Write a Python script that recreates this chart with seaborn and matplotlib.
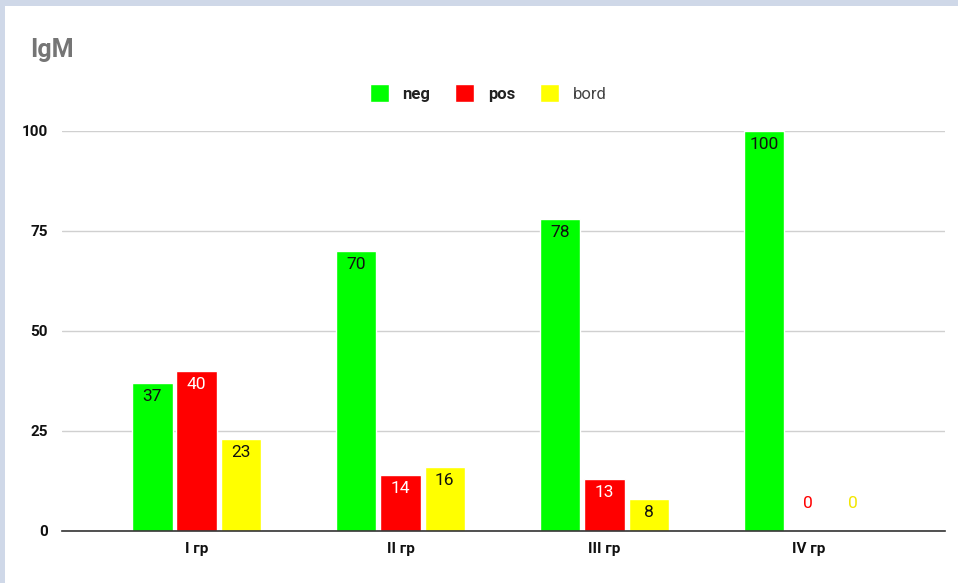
import pandas as pd
import seaborn as sb
import matplotlib.pyplot as plt
from matplotlib.patches import Rectangle

# data
groups = ['I гр', 'II гр', 'III гр', 'IV гр']
neg = [37, 70, 78, 100]
pos = [40, 14, 13, 0]
bord = [23, 16, 8, 0]
series = ['neg', 'pos', 'bord']
colors = {'neg': '#00ff00', 'pos': '#ff0000', 'bord': '#ffff00'}
label_colors = {'neg': '#111111', 'pos': '#ffffff', 'bord': '#111111'}
zero_colors = {'neg': '#00cc00', 'pos': '#ff0000', 'bord': '#f2e600'}

df = pd.DataFrame({'group': groups * 3,
                   'series': ['neg'] * 4 + ['pos'] * 4 + ['bord'] * 4,
                   'value': neg + pos + bord})

sb.set_style('white')
plt.rcParams['font.family'] = ['Roboto', 'DejaVu Sans']

fig = plt.figure(figsize=(9.58, 5.83), dpi=100, facecolor='#cfd8e8')
# white panel with light border on top and left
fig.patches.append(Rectangle((5 / 958, 0), 1, 1 - 6 / 583, transform=fig.transFigure,
                             facecolor='white', edgecolor='none', zorder=-1))
ax = fig.add_axes([62 / 958, 52 / 583, 883 / 958, 400 / 583])
ax.set_facecolor('none')

sb.barplot(data=df, x='group', y='value', hue='series', hue_order=series,
           palette=colors, width=0.65, gap=0.09, saturation=1, ax=ax, legend=False)

# value labels inside top of bars
for cont, s in zip(ax.containers, series):
    for bar in cont:
        h = bar.get_height()
        xc = bar.get_x() + bar.get_width() / 2
        if h > 0:
            ax.annotate(f'{h:.0f}', (xc, h), xytext=(0, -4), textcoords='offset points',
                        ha='center', va='top', fontsize=12.5, color=label_colors[s])
        else:
            ax.annotate(f'{h:.0f}', (xc, 0), xytext=(0, 20), textcoords='offset points',
                        ha='center', va='center', fontsize=12.5, color=zero_colors[s])

ax.set_xlim(-0.66, 3.67)
ax.set_ylim(0, 100)
ax.set_yticks([0, 25, 50, 75, 100])
ax.yaxis.grid(True, color='#d0d0d0', linewidth=1)
ax.set_axisbelow(True)
for sp in ['left', 'right', 'top']:
    ax.spines[sp].set_visible(False)
ax.spines['bottom'].set_color('#333333')
ax.spines['bottom'].set_linewidth(1.2)
ax.tick_params(axis='both', length=0, labelsize=11, colors='#111111')
ax.tick_params(axis='y', pad=10)
ax.tick_params(axis='x', pad=8)
for t in ax.get_xticklabels() + ax.get_yticklabels():
    t.set_fontweight('bold')
ax.set_xlabel('')
ax.set_ylabel('')

fig.text(30 / 958, 1 - 50 / 583, 'IgM', fontsize=18, fontweight='bold', color='#757575',
         ha='left', va='center')

# legend
handles = [Rectangle((0, 0), 1, 1, facecolor=colors[s]) for s in series]
leg = fig.legend(handles, series, loc='center', bbox_to_anchor=(488 / 958, 1 - 93 / 583),
                 ncol=3, frameon=False, fontsize=12, handlelength=1.15, handleheight=1.3,
                 handletextpad=0.8, columnspacing=1.5)
for t, s in zip(leg.get_texts(), series):
    if s == 'bord':
        t.set_color('#444444')
    else:
        t.set_fontweight('bold')
        t.set_color('#222222')

fig.savefig('out.png', dpi=100, facecolor=fig.get_facecolor())
